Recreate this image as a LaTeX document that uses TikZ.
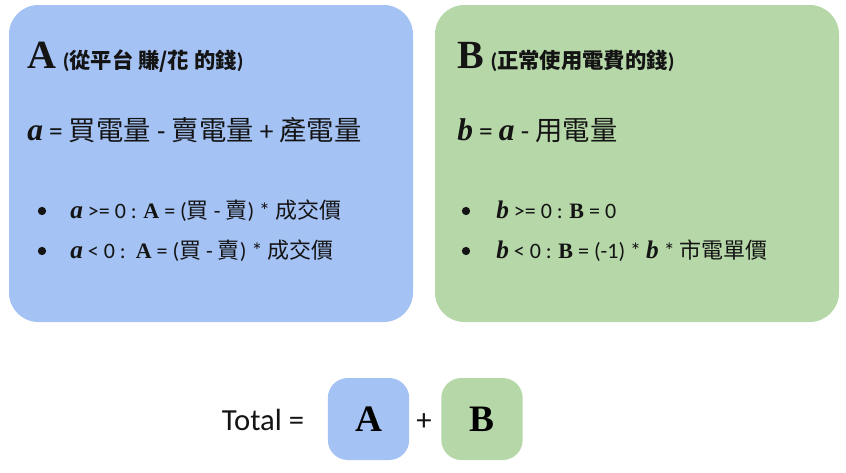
\documentclass[tikz,border=0pt]{standalone}
\usepackage{fontspec}
\setmainfont{Carlito}
\newfontfamily\cjk{Noto Sans CJK TC}
\newfontfamily\serifm{Liberation Serif}
\newfontfamily\serifv{Liberation Serif}[Scale=1.15]
\usetikzlibrary{positioning}
\definecolor{rBlue}{RGB}{164,194,244}
\definecolor{rGreen}{RGB}{182,215,168}
\definecolor{rInk}{RGB}{20,20,20}
\newcommand{\vsym}[1]{{\serifv\bfseries\itshape #1}}
\newcommand{\bsym}[1]{{\serifm\bfseries #1}}
\newcommand{\zh}[1]{{\cjk #1}}

\begin{document}
\begin{tikzpicture}[
			x=0.75pt,y=-0.75pt,
			panel/.style={
				rounded corners=22pt,
				minimum width=303pt,
				minimum height=237.75pt,
				inner sep=0pt
			},
			chip/.style={
				rounded corners=15pt,
				minimum width=61pt,
				minimum height=61.5pt,
				inner sep=0pt,
				font=\fontsize{28}{30}\selectfont\serifm\bfseries
			},
			txt/.style={anchor=base west,inner sep=0pt,text=rInk},
			head/.style={txt,font=\fontsize{16}{19}\selectfont\bfseries},
			formula/.style={txt,font=\fontsize{20.5}{24}\selectfont},
			item/.style={txt,font=\fontsize{16.5}{20}\selectfont},
			dot/.style={circle,fill=rInk,inner sep=0pt,minimum size=6.2pt},
			sum/.style={anchor=base,inner sep=0pt,text=rInk,font=\fontsize{23}{26}\selectfont}
			]
			\useasboundingbox (0,0) rectangle (846,472);
			% two panels
			\node[panel,fill=rBlue](panelA) at (211,163.5){};
			\node[panel,fill=rGreen](panelB) at (637,163.5){};
			% panel A
			\node[head](headA) at (27,68){\bsym{\fontsize{30}{32}\selectfont A}\hspace{5pt}(\zh{從平台 賺/花 的錢})};
			\node[formula](defA) at (27,140){\vsym{a} = \zh{買電量} - \zh{賣電量} + \zh{產電量}};
			\node[dot](dotA1) at (42,211){};
			\node[item](itemA1) at (70,218){\vsym{a} >= 0 : \bsym{A} = (\zh{買} - \zh{賣}) * \zh{成交價}};
			\node[dot](dotA2) at (42,251){};
			\node[item](itemA2) at (70,258){\vsym{a} < 0 :\ \ \bsym{A} = (\zh{買} - \zh{賣}) * \zh{成交價}};
			% panel B
			\node[head](headB) at (457,68){\bsym{\fontsize{30}{32}\selectfont B}\hspace{5pt}(\zh{正常使用電費的錢})};
			\node[formula](defB) at (457,140){\vsym{b} = \vsym{a} - \zh{用電量}};
			\node[dot](dotB1) at (466,211){};
			\node[item](itemB1) at (496,218){\vsym{b} >= 0 : \bsym{B} = 0};
			\node[dot](dotB2) at (466,251){};
			\node[item](itemB2) at (496,258){\vsym{b} < 0 : \bsym{B} = (-1) * \vsym{b} * \zh{市電單價}};
			% total
			\node[sum](total) at (263,430){Total =};
			\node[chip,fill=rBlue](chipA) at (368.5,419){A};
			\node[sum](plus) at (424,430){+};
			\node[chip,fill=rGreen](chipB) at (482,419){B};
		\end{tikzpicture}
\end{document}
